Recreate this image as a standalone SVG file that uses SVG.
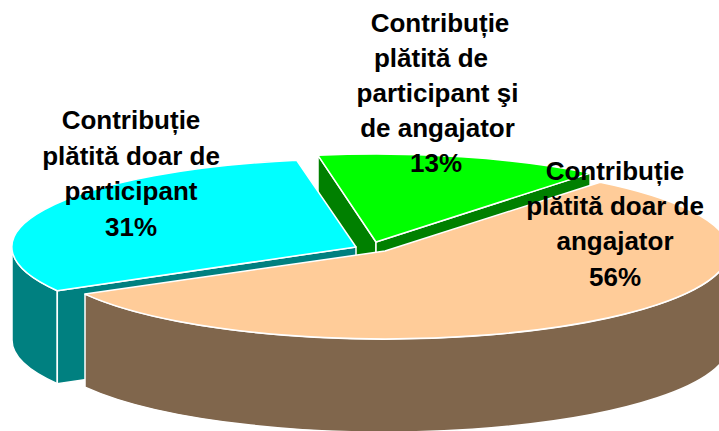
<svg xmlns="http://www.w3.org/2000/svg" width="719" height="431" viewBox="0 0 719 431">
<style>
.f{stroke:#ffffff;stroke-width:1.5;stroke-linejoin:round}
.lbl{font-family:"Liberation Sans",Arial,sans-serif;font-weight:bold;font-size:26px;fill:#000000;text-anchor:middle}
</style>
<rect width="719" height="431" fill="#ffffff"/>
<g id="slice-green">
<path class="f" fill="#008000" d="M376,242 L318,155.3 L318,248.3 L376,335 Z"/>
<path class="f" fill="#008000" d="M376,242 L590.1,173.1 L590.1,266.1 L376,335 Z"/>
<path class="f" fill="#00FF00" d="M376,242 L318,155.3 A344,88 0 0,1 590.1,173.1 Z"/>
</g>
<g id="slice-cyan">
<path class="f" fill="#008080" d="M57.3,290.7 A344,88 0 0,1 12,247 L12,340 A344,88 0 0,0 57.3,383.7 Z"/>
<path class="f" fill="#008080" d="M356,247 L57.3,290.7 L57.3,383.7 L356,340 Z"/>
<path class="f" fill="#00FFFF" d="M356,247 L57.3,290.7 A344,88 0 0,1 296.7,160.3 Z"/>
</g>
<g id="slice-orange">
<path class="f" fill="#80664C" d="M729,251 A344,88 0 0,1 85,294.1 L85,387.1 A344,88 0 0,0 729,344 Z"/>
<path class="f" fill="#FFCC99" d="M385,251 L600.1,182.3 A344,88 0 1,1 85,294.1 Z"/>
</g>
<g id="label-cyan">
<text class="lbl" x="131" y="129.3">Contribuție</text>
<text class="lbl" x="131" y="164.8">plătită doar de</text>
<text class="lbl" x="131" y="200.2">participant</text>
<text class="lbl" x="131" y="235.7">31%</text>
</g>
<g id="label-green">
<text class="lbl" x="440" y="32.3">Contribuție</text>
<text class="lbl" x="431" y="67.2">plătită de</text>
<text class="lbl" x="437.5" y="102">participant şi</text>
<text class="lbl" x="437.5" y="136.9">de angajator</text>
<text class="lbl" x="436" y="171.7">13%</text>
</g>
<g id="label-orange">
<text class="lbl" x="615" y="180">Contribuție</text>
<text class="lbl" x="615" y="215.2">plătită doar de</text>
<text class="lbl" x="615" y="250.4">angajator</text>
<text class="lbl" x="615" y="285.7">56%</text>
</g>
</svg>
